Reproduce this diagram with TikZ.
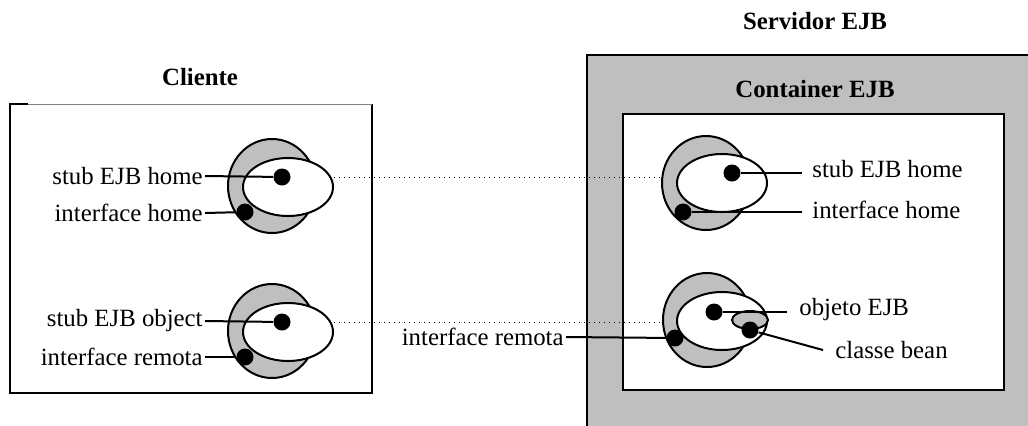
\documentclass[tikz,border=0pt]{standalone}
\usepackage{fontspec}
\setmainfont{Liberation Serif}
\usetikzlibrary{shapes.geometric}

\tikzset{
  body/.style={ellipse, draw, line width=1pt, fill=black!25, inner sep=0pt,
    minimum width=44pt, minimum height=47pt},
  shell/.style={ellipse, draw, line width=1pt, fill=white, inner sep=0pt,
    minimum width=45pt, minimum height=29pt},
  beanshape/.style={ellipse, draw, line width=1pt, fill=black!25, inner sep=0pt,
    minimum width=18pt, minimum height=9pt},
  dot/.style={circle, fill=black, inner sep=0pt, minimum size=8.5pt},
  lbl/.style={inner sep=1pt, font=\fontsize{12.4}{14}\selectfont},
  title/.style={inner sep=0pt, font=\fontsize{12.4}{14}\selectfont\bfseries},
  wire/.style={line width=1pt},
  link/.style={dotted, line width=0.5pt}
}

\begin{document}
\begin{tikzpicture}[x=0.5pt, y=-0.5pt]
  \clip (0,0) rectangle (1028,425);
  \useasboundingbox (0,0) rectangle (1028,425);

  % cliente
  \node[title] (cli) at (200,77) {Cliente};
  \draw[line width=1pt] (28,104) -- (10,104) -- (10,393) -- (372,393) -- (372,104);
  \draw[gray, line width=0.5pt] (28,104) -- (372,104);

  % servidor
  \node[title] (srv) at (815,21) {Servidor EJB};
  \fill[black!25] (587,55) rectangle (1040,440);
  \draw[line width=1pt] (587,440) -- (587,55) -- (1040,55);
  \node[title] (cont) at (815,89) {Container EJB};
  \draw[line width=1pt, fill=white] (623,114) rectangle (1004,390);

  % objetos do cliente
  \node[body] (cb1) at (272,186) {};
  \node[shell] (ce1) at (288,187) {};
  \node[body] (cb2) at (272,331) {};
  \node[shell] (ce2) at (288,332) {};
  \node[dot] (cs1) at (282,177) {};
  \node[dot] (ci1) at (245,212) {};
  \node[dot] (cs2) at (282,322) {};
  \node[dot] (ci2) at (245,357) {};

  % objetos do servidor
  \node[body] (sb1) at (706,183) {};
  \node[shell] (se1) at (722,183) {};
  \node[body] (sb2) at (707,320) {};
  \node[shell] (se2) at (722,321) {};
  \node[beanshape] (sbn) at (750,320) {};
  \node[dot] (ss1) at (732,173) {};
  \node[dot] (si1) at (683,212) {};
  \node[dot] (ss2) at (714,312) {};
  \node[dot] (si2) at (675,338) {};
  \node[dot] (sbd) at (750,330) {};

  % rotulos
  \node[lbl, anchor=east] (lcs1) at (205,176) {stub EJB home};
  \node[lbl, anchor=east] (lci1) at (205,213) {interface home};
  \node[lbl, anchor=east] (lcs2) at (205,321) {stub EJB object};
  \node[lbl, anchor=east] (lci2) at (205,357) {interface remota};
  \node[lbl, anchor=west] (lss1) at (810,169) {stub EJB home};
  \node[lbl, anchor=west] (lsi1) at (810,210) {interface home};
  \node[lbl, anchor=west] (lss2) at (797,310) {objeto EJB};
  \node[lbl, anchor=west] (lsb) at (833,350) {classe bean};
  \node[lbl, anchor=east] (lsi2) at (566,337) {interface remota};

  \draw[wire] (lcs1.east) -- (cs1);
  \draw[wire] (lci1.east) -- (ci1);
  \draw[wire] (lcs2.east) -- (cs2);
  \draw[wire] (lci2.east) -- (ci2);
  \draw[wire] (ss1) -- ([xshift=-4pt]ss1 -| lss1.west);
  \draw[wire] (si1) -- ([xshift=-4pt]si1 -| lsi1.west);
  \draw[wire] (ss2) -- ([xshift=-5pt]ss2 -| lss2.west);
  \draw[wire] (sbd) -- ([xshift=-5pt]lsb.west);
  \draw[wire] (lsi2.east) -- (si2);

  % ligacoes
  \draw[link] (ce1.east |- cs1) -- (sb1.west |- cs1);
  \draw[link] (ce2.east |- cs2) -- (sb2.west |- cs2);
\end{tikzpicture}
\end{document}
